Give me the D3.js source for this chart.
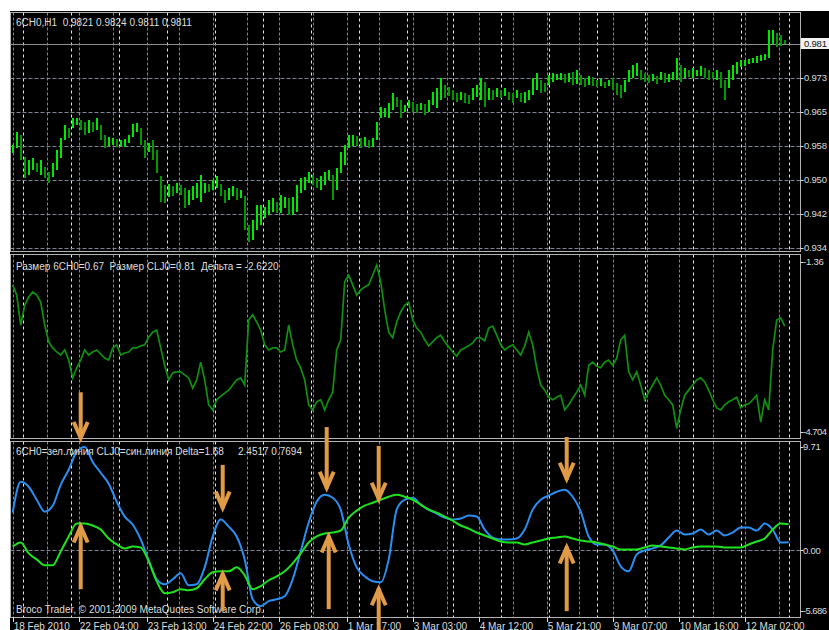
<!DOCTYPE html>
<html><head><meta charset="utf-8">
<script src="https://cdn.jsdelivr.net/npm/d3@7"></script>
<style>
html,body{margin:0;padding:0;background:#fff;}
svg{display:block;}
text{font-family:"Liberation Sans",Arial,sans-serif;font-size:10px;white-space:pre;}
</style>
</head><body>
<svg id="c" width="829" height="630"></svg>
<script>
// ---------- DATA ----------
// Price bars (6CH0, every 2nd hourly bar): highs and lows
const barHigh = [
.9578,.9608,.9601,.9550,.9544,.9548,.9537,.9544,.9528,.9516,
.9537,.9566,.9594,.9624,.9617,.9640,.9640,.9635,.9631,.9635,
.9631,.9640,.9624,.9601,.9596,.9594,.9592,.9589,.9592,.9601,
.9626,.9628,.9617,.9589,.9583,.9589,.9566,.9507,.9486,.9489,
.9484,.9491,.9486,.9480,.9475,.9484,.9491,.9509,.9491,.9489,
.9498,.9507,.9489,.9475,.9480,.9484,.9480,.9475,.9461,.9395,
.9406,.9441,.9441,.9436,.9452,.9457,.9447,.9463,.9459,.9457,
.9459,.9486,.9502,.9505,.9516,.9509,.9502,.9507,.9516,.9521,
.9509,.9525,.9562,.9578,.9601,.9601,.9599,.9594,.9596,.9589,
.9594,.9631,.9665,.9663,.9674,.9697,.9688,.9681,.9670,.9681,
.9676,.9672,.9674,.9672,.9681,.9699,.9708,.9731,.9715,.9711,
.9704,.9697,.9699,.9697,.9692,.9708,.9715,.9731,.9722,.9708,
.9704,.9708,.9704,.9708,.9699,.9697,.9704,.9697,.9699,.9704,
.9731,.9743,.9727,.9720,.9738,.9743,.9741,.9743,.9741,.9743,
.9745,.9750,.9738,.9731,.9736,.9734,.9727,.9729,.9722,.9727,
.9731,.9720,.9715,.9727,.9750,.9761,.9766,.9750,.9743,.9738,
.9741,.9736,.9745,.9743,.9741,.9745,.9777,.9761,.9754,.9750,
.9754,.9750,.9759,.9754,.9750,.9745,.9750,.9745,.9727,.9750,
.9761,.9768,.9773,.9773,.9775,.9777,.9782,.9784,.9786,.9841,
.9841,.9834,.9830,.9818];
const barLow = [
.9560,.9571,.9544,.9502,.9509,.9521,.9516,.9509,.9502,.9491,
.9505,.9521,.9548,.9589,.9594,.9617,.9624,.9612,.9601,.9605,
.9608,.9612,.9589,.9571,.9576,.9578,.9573,.9576,.9573,.9583,
.9596,.9608,.9578,.9548,.9562,.9544,.9514,.9447,.9445,.9459,
.9461,.9468,.9463,.9434,.9441,.9452,.9457,.9447,.9468,.9470,
.9475,.9480,.9461,.9445,.9452,.9461,.9452,.9457,.9383,.9356,
.9360,.9383,.9395,.9411,.9418,.9425,.9422,.9422,.9434,.9418,
.9418,.9425,.9468,.9475,.9491,.9486,.9480,.9475,.9486,.9498,
.9452,.9475,.9514,.9532,.9571,.9576,.9576,.9571,.9576,.9571,
.9573,.9589,.9640,.9642,.9640,.9658,.9665,.9640,.9654,.9663,
.9654,.9651,.9658,.9647,.9654,.9670,.9663,.9681,.9686,.9690,
.9681,.9676,.9681,.9674,.9672,.9681,.9688,.9681,.9665,.9681,
.9681,.9688,.9686,.9690,.9681,.9674,.9686,.9676,.9674,.9681,
.9692,.9704,.9697,.9699,.9715,.9722,.9727,.9727,.9720,.9722,
.9715,.9718,.9715,.9711,.9715,.9713,.9711,.9713,.9708,.9713,
.9704,.9692,.9686,.9699,.9722,.9731,.9736,.9727,.9722,.9720,
.9725,.9718,.9727,.9720,.9722,.9727,.9727,.9722,.9731,.9734,
.9731,.9736,.9736,.9731,.9727,.9731,.9727,.9708,.9681,.9708,
.9727,.9741,.9757,.9759,.9763,.9766,.9766,.9770,.9773,.9777,
.9809,.9802,.9805,.9809];

// Middle window: spread "Дельта" (every 2nd bar)
const deltaValues = [
-1.81,-2.01,-2.60,-2.21,-2.05,-1.95,-2.01,-2.15,-2.60,-2.93,
-3.05,-3.13,-3.19,-3.09,-3.29,-3.64,-3.44,-3.29,-3.09,-3.19,
-3.13,-3.09,-3.17,-3.25,-3.29,-3.05,-2.99,-3.19,-3.15,-3.13,
-3.05,-3.05,-3.01,-2.99,-2.84,-2.74,-2.70,-3.05,-3.39,-3.68,
-3.54,-3.52,-3.52,-3.58,-3.64,-3.84,-3.68,-3.33,-3.68,-4.17,
-4.27,-4.07,-4.00,-3.94,-3.88,-3.78,-3.68,-3.64,-3.78,-2.50,
-2.40,-2.54,-2.70,-2.99,-3.09,-3.05,-3.05,-3.13,-3.09,-2.60,
-2.99,-3.29,-3.44,-3.68,-4.17,-4.27,-4.11,-4.07,-4.27,-4.07,
-3.92,-3.09,-2.89,-1.75,-1.62,-1.81,-2.01,-1.91,-1.85,-1.81,
-1.62,-1.42,-1.75,-2.30,-2.74,-2.85,-2.54,-2.34,-2.21,-2.15,
-2.50,-2.66,-2.74,-2.89,-3.01,-2.93,-2.85,-2.80,-2.93,-3.03,
-3.13,-3.21,-3.09,-3.05,-3.01,-2.95,-2.85,-2.85,-2.91,-2.66,
-2.62,-2.80,-2.99,-3.09,-3.03,-2.99,-3.09,-3.19,-3.01,-2.74,
-2.99,-3.44,-3.78,-3.88,-4.02,-4.07,-4.02,-3.98,-4.27,-4.17,
-4.04,-3.92,-3.78,-3.98,-3.39,-3.33,-3.41,-3.44,-3.33,-3.29,
-3.39,-3.25,-2.89,-2.80,-3.52,-3.68,-3.52,-3.78,-4.07,-3.92,
-3.78,-3.64,-3.78,-3.98,-4.07,-4.17,-4.63,-4.27,-3.98,-3.88,
-3.78,-3.68,-3.64,-3.72,-3.88,-4.07,-4.23,-4.27,-4.17,-4.11,
-4.07,-4.02,-4.23,-4.17,-4.15,-4.07,-3.98,-4.51,-4.07,-4.27,
-3.09,-2.50,-2.46,-2.62];

// Bottom window: 6CH0 (green) and CLJ0 (blue), every 4th bar
const blueValues = [
3.55,6.44,5.98,4.76,3.64,4.20,6.16,7.57,9.25,9.71,
8.31,7.29,6.26,4.58,3.18,2.43,1.03,-0.93,-2.71,-3.18,
-2.71,-2.15,-3.27,-3.18,-1.59,1.31,2.90,2.24,1.31,-0.84,
-4.58,-5.23,-4.76,-4.58,-4.30,-2.71,-0.09,2.62,4.58,5.23,
4.95,3.83,0.56,-1.59,-2.43,-2.90,-2.99,-0.84,3.83,4.76,
4.95,4.30,3.83,3.46,3.08,2.90,2.99,3.27,3.18,1.96,
1.21,1.03,1.03,1.12,1.96,3.83,4.76,5.14,5.51,5.70,
5.04,3.64,1.31,0.56,0.56,0.00,-1.49,-1.96,-0.37,0.00,
0.19,0.47,1.21,1.87,1.49,1.59,1.96,1.49,1.87,1.40,
1.68,2.15,2.15,1.87,2.52,1.96,0.75,0.77];
const greenValues = [
0.37,0.75,-0.28,-0.84,-1.40,-1.40,-0.09,1.31,2.52,2.52,
2.34,1.96,1.12,0.56,0.19,0.37,0.28,-1.03,-2.90,-4.02,
-3.92,-3.64,-3.74,-3.55,-2.71,-2.05,-1.96,-1.96,-1.59,-2.34,
-3.64,-3.36,-2.80,-2.43,-1.96,-1.21,-0.28,0.75,1.31,1.59,
1.68,1.87,3.08,3.74,4.20,4.48,4.76,5.04,5.23,5.04,
4.76,4.30,3.83,3.55,3.18,2.80,2.34,2.05,1.68,1.40,
1.12,0.84,0.75,0.75,0.56,0.75,0.93,1.12,1.21,1.31,
1.12,0.93,0.84,0.75,0.56,0.37,0.09,0.09,0.09,0.28,
0.47,0.37,0.28,0.19,0.09,0.28,0.37,0.37,0.37,0.28,
0.28,0.28,0.56,0.84,1.12,1.96,2.52,2.45];

// Axes
const priceTicks = [0.9342,0.9420,0.9498,0.9576,0.9654,0.9732,0.9810];
const priceTickLabels = ["0.934","0.942","0.950","0.958","0.965","0.973","0.981"];
const lastPrice = 0.9811, lastPriceLabel = "0.981";
const deltaTicks = [-1.36,-4.704];
const deltaTickLabels = ["-1.36","-4.704"];
const oscTicks = [9.71,0,-5.686];
const oscTickLabels = ["9.71","0.00","-5.686"];
const xTickBars = [0,33,67,100,133,167,200,233,267,300,333,366];
const xTickLabels = ["18 Feb 2010","22 Feb 04:00","23 Feb 13:00","24 Feb 22:00","26 Feb 08:00","1 Mar 17:00","3 Mar 03:00","4 Mar 12:00","5 Mar 21:00","9 Mar 07:00","10 Mar 16:00","12 Mar 02:00"];
const gridBars = [0,17,33,50,67,83,100,117,133,150,167,183,200,217,233,250,267,283,300,317,333,350,366,383];
const separatorBars = [5,29,53,77,101,125,149,173,197,220,244,268,292,316,340,364,388];

// Annotation arrows (bar index, tip value, tail value in bottom-window units)
const arrowBars  = [34, 34, 105, 105, 157, 158, 183, 183, 277, 277];
const arrowTips  = [10.18, 2.62, 3.64, -1.87, 5.51, 1.68, 4.48, -3.27, 6.35, 0.65];
const arrowTails = [14.85, -3.64, 8.03, -5.70, 11.58, -5.51, 9.81, -7.57, 10.65, -5.70];

// Texts
const title1 = "6CH0,H1  0.9821 0.9824 0.9811 0.9811";
const title2 = "Размер 6CH0=0.67  Размер CLJ0=0.81  Дельта = -2.6220";
const title3a = "6CH0=зел.линия CLJ0=син.линия Delta=1.68";
const title3b = "2.4517 0.7694";
const copyright = "Broco Trader, © 2001-2009 MetaQuotes Software Corp.";

// ---------- DRAW ----------
const W = 829, H = 630;
const svg = d3.select("#c");
svg.append("rect").attr("width", W).attr("height", H).attr("fill", "#fff");
svg.append("rect").attr("x", 10).attr("y", 11).attr("width", W - 10).attr("height", H - 11).attr("fill", "#000");

const L = 10.5, R = 800.5;
const panels = [{top: 12.5, bottom: 251.5}, {top: 254.5, bottom: 438.5}, {top: 441.5, bottom: 617.5}];

const x = d3.scaleLinear().domain([0, 394]).range([12.7, 800.7]);
const yP = d3.scaleLinear().domain([0.93352, 0.98825]).range([251, 12]);
const yD = d3.scaleLinear().domain([-4.704, -1.36]).range([432, 262]);
const yO = d3.scaleLinear().domain([-5.686, 9.71]).range([611, 447]);

const defs = svg.append("defs");
panels.forEach((p, i) => {
  defs.append("clipPath").attr("id", "clip" + i).append("rect")
    .attr("x", L).attr("y", p.top).attr("width", R - L).attr("height", p.bottom - p.top);
});

const px = v => Math.round(v) + 0.5;

// grids
panels.forEach((p, i) => {
  const g = svg.append("g").attr("clip-path", `url(#clip${i})`);
  g.selectAll("line.grid").data(gridBars).join("line")
    .attr("x1", d => px(x(d))).attr("x2", d => px(x(d)))
    .attr("y1", p.top).attr("y2", p.bottom)
    .attr("stroke", "#7d8793").attr("stroke-dasharray", "3,2");
  g.selectAll("line.sep").data(separatorBars).join("line")
    .attr("x1", d => px(x(d))).attr("x2", d => px(x(d)))
    .attr("y1", p.top).attr("y2", p.bottom)
    .attr("stroke", "#e4e4e4").attr("stroke-dasharray", "3,3");
});
const gH = svg.append("g");
gH.selectAll("line").data(priceTicks).join("line")
  .attr("x1", L).attr("x2", R).attr("y1", d => px(yP(d))).attr("y2", d => px(yP(d)))
  .attr("stroke", "#7d8793").attr("stroke-dasharray", "4,2");
gH.append("line").attr("x1", L).attr("x2", R).attr("y1", px(yO(0))).attr("y2", px(yO(0)))
  .attr("stroke", "#7d8793").attr("stroke-dasharray", "4,2");
// current price line
gH.append("line").attr("x1", L).attr("x2", R).attr("y1", px(yP(lastPrice)) + 1).attr("y2", px(yP(lastPrice)) + 1)
  .attr("stroke", "#8f8f8f");

// price bars
const mids = barHigh.map((h, i) => (h + barLow[i]) / 2);
svg.append("g").attr("clip-path", "url(#clip0)")
  .selectAll("line").data(barHigh).join("line")
  .attr("x1", (d, i) => Math.round(x(2 * i))).attr("x2", (d, i) => Math.round(x(2 * i)))
  .attr("y1", d => yP(d)).attr("y2", (d, i) => yP(barLow[i]))
  .attr("stroke", (d, i) => (i === 0 || mids[i] >= mids[i - 1]) ? "#00e800" : "#009800")
  .attr("stroke-width", 2).attr("shape-rendering", "crispEdges");

// delta line
svg.append("g").attr("clip-path", "url(#clip1)").append("path")
  .datum(deltaValues)
  .attr("d", d3.line().x((d, i) => x(2 * i)).y(d => yD(d)))
  .attr("fill", "none").attr("stroke", "#109010").attr("stroke-width", 1.7);

// oscillator lines
const g3 = svg.append("g").attr("clip-path", "url(#clip2)");
const oscLine = d3.line().x((d, i) => x(4 * i)).y(d => yO(d)).curve(d3.curveMonotoneX);
g3.append("path").datum(blueValues).attr("d", oscLine)
  .attr("fill", "none").attr("stroke", "#2a8ff2").attr("stroke-width", 2);
g3.append("path").datum(greenValues).attr("d", oscLine)
  .attr("fill", "none").attr("stroke", "#1ee41e").attr("stroke-width", 2);

// panel frames
panels.forEach(p => {
  svg.append("rect").attr("x", L).attr("y", p.top).attr("width", R - L).attr("height", p.bottom - p.top)
    .attr("fill", "none").attr("stroke", "#b4b4b4");
});

// right axis labels
const axisCol = "#dcdcdc";
function rightAxis(ticks, labels, scale, tx) {
  const g = svg.append("g");
  g.selectAll("line").data(ticks).join("line")
    .attr("x1", R).attr("x2", R + 3).attr("y1", d => px(scale(d))).attr("y2", d => px(scale(d)))
    .attr("stroke", axisCol);
  g.selectAll("text").data(ticks).join("text")
    .attr("x", tx).attr("y", d => scale(d)).attr("dy", "0.35em")
    .style("font-size", "9.5px")
    .style("letter-spacing", (d, i) => labels[i].length > 5 ? "-0.6px" : "-0.2px")
    .attr("fill", axisCol).text((d, i) => labels[i]);
}
rightAxis(priceTicks, priceTickLabels, yP, 804);
rightAxis(deltaTicks, deltaTickLabels, yD, 803);
rightAxis(oscTicks, oscTickLabels, yO, 803);
// last price box
svg.append("rect").attr("x", 801).attr("y", Math.round(yP(lastPrice)) - 5).attr("width", 30).attr("height", 11)
  .attr("fill", "#f2f2f2");
svg.append("text").attr("x", 804).attr("y", yP(lastPrice) + 0.5).attr("dy", "0.35em")
  .style("font-size", "9.5px").style("letter-spacing", "-0.2px").attr("fill", "#111").text(lastPriceLabel);

// bottom time axis
const gx = svg.append("g");
gx.selectAll("line").data(xTickBars).join("line")
  .attr("x1", d => px(x(d))).attr("x2", d => px(x(d))).attr("y1", 617.5).attr("y2", 622)
  .attr("stroke", axisCol);
gx.selectAll("text").data(xTickBars).join("text")
  .attr("x", d => x(d) + 1).attr("y", 629.5).attr("fill", axisCol)
  .text((d, i) => xTickLabels[i]);

// panel titles
const tCol = "#dedede";
svg.append("text").attr("x", 16).attr("y", 26).attr("fill", tCol).text(title1);
svg.append("text").attr("x", 16).attr("y", 269.5).attr("fill", tCol).text(title2);
svg.append("text").attr("x", 16).attr("y", 455).attr("fill", tCol).text(title3a);
svg.append("text").attr("x", 238).attr("y", 455).attr("fill", tCol).text(title3b);
svg.append("text").attr("x", 16).attr("y", 613).attr("fill", tCol).text(copyright);

// arrows
const ga = svg.append("g").attr("stroke", "#e19b47").attr("stroke-width", 4).attr("fill", "none");
arrowBars.forEach((b, i) => {
  const ax = x(b), ty = yO(arrowTips[i]), tl = yO(arrowTails[i]);
  const s = tl > ty ? 1 : -1;
  ga.append("line").attr("x1", ax).attr("x2", ax).attr("y1", tl).attr("y2", ty + s * 3);
  ga.append("path").attr("stroke-linejoin", "miter")
    .attr("d", `M${ax - 7},${ty + s * 20}L${ax},${ty + s * 4}L${ax + 7},${ty + s * 20}`);
});
</script>
</body></html>
